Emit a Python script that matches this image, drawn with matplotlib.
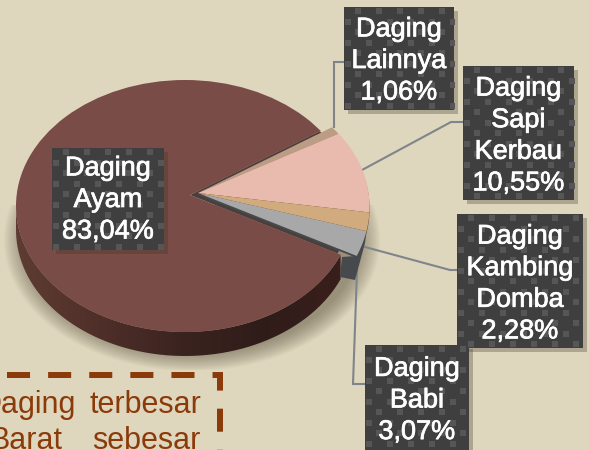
import numpy as np
import matplotlib
matplotlib.use("Agg")
import matplotlib.pyplot as plt
import matplotlib.patheffects as pe
from matplotlib.colors import LinearSegmentedColormap
from matplotlib.patches import Ellipse, PathPatch, Polygon, Rectangle
from matplotlib.path import Path

plt.rcParams["font.family"] = ["Liberation Sans", "DejaVu Sans"]
plt.rcParams["lines.scale_dashes"] = False

# data
labels = ["Daging Lainnya", "Daging Sapi Kerbau", "Daging Kambing Domba", "Daging Babi", "Daging Ayam"]
box_text = ["Daging\nLainnya\n1,06%", "Daging\nSapi\nKerbau\n10,55%",
            "Daging\nKambing\nDomba\n2,28%", "Daging\nBabi\n3,07%", "Daging\nAyam\n83,04%"]
values = [1.06, 10.55, 2.28, 3.07, 83.04]
note_lines = [("Daging", "terbesar"), ("Barat", "sebesar")]

BG = "#dfd6be"
SLICE_COLORS = ["#bb9d85", "#e9baae", "#d1aa7d", "#a8a8a8", "#7a4c47"]
SIDE_COLORS = ["#8d7460", "#5a3a30", "#5f4630", "#474a4c"]
BOXES = [(344, 7, 454, 110), (463, 66, 574, 200), (457, 214, 583, 348),
         (365, 345, 469, 450), (52, 148, 164, 250)]
TEXT_DY = [2.5, 3, 3, 3, 1]
LEADERS = [[(334, 127), (334, 62), (344, 62)],
           [(362, 170), (451, 122), (463, 122)],
           [(365, 247), (450, 270), (457, 270)],
           [(357, 270), (353, 384), (365, 384)]]

CX, CY = 198, 193       # apex of the small slices
MX, MY, MA, MB = 185, 206, 169, 126   # ellipse of the main slice
AX, AY = 190, 195       # apex of the main slice
SQUASH = 0.75
START = 33.2
DEPTH = 24


def rad_at(t):
    # the small slices bulge toward the lower right
    return 170.6 - 0.32 * t


def sector(a0, a1, dy=0, scale=1.0, apex=(CX, CY)):
    deg = np.linspace(a0, a1, 60)
    t = np.radians(deg)
    r = rad_at(deg) * scale
    xs = apex[0] + r * np.cos(t)
    ys = apex[1] + dy - SQUASH * r * np.sin(t)
    return np.vstack([[apex[0], apex[1] + dy], np.column_stack([xs, ys])])


fig = plt.figure(figsize=(5.89, 4.5), dpi=100, facecolor=BG)
ax = fig.add_axes([0, 0, 1, 1])
ax.set_xlim(0, 589)
ax.set_ylim(450, 0)
ax.axis("off")

# soft shadow under the pie
clip_rect = Rectangle((0, 205), 589, 165, transform=ax.transData)
for k in range(14):
    e = Ellipse((192, 240), 2 * (188 - k * 1.6), 2 * (131 - k * 1.3), fc="#4a4030",
                ec="none", alpha=0.04, zorder=1)
    ax.add_patch(e)
    e.set_clip_path(clip_rect)

# leaders
for pts in LEADERS:
    p = np.array(pts)
    ax.plot(p[:, 0], p[:, 1], color="#7f858a", lw=1.5, zorder=2, solid_joinstyle="miter")

# angles of the slices, clockwise from START
spans = np.array(values) * 3.6
edges = START - np.concatenate([[0], np.cumsum(spans)])

# side wall of the main slice
phi = np.radians(np.linspace(180, 337, 200))
ex, ey = MX + MA * np.cos(phi), MY - MB * np.sin(phi)
rim_pts = np.vstack([np.column_stack([ex, ey]),
                     np.column_stack([ex[::-1], ey[::-1] + DEPTH])])
rim = PathPatch(Path(rim_pts), fc="none", ec="none", zorder=3)
ax.add_patch(rim)
rim_cmap = LinearSegmentedColormap.from_list("rim", ["#5e3c32", "#4f2f29", "#3b2420", "#2f1c19", "#3a1f1c"])
im = ax.imshow(np.linspace(0, 1, 256)[None, :], extent=(16, 345, 370, 190), cmap=rim_cmap,
               aspect="auto", zorder=3)
im.set_clip_path(rim)
ax.set_xlim(0, 589)
ax.set_ylim(450, 0)

# dark wall along the cut of the main slice, runs on under the small slices
ax.add_patch(Polygon(sector(edges[0], edges[0] - 1.8, scale=0.97, apex=(AX, AY)), fc="#552f2b", ec="none", zorder=4))
ax.add_patch(Polygon(sector(edges[0], edges[4], scale=0.93, apex=(AX, AY)), fc="#4a3f3d", ec="none", zorder=4))
wedge_clip = Polygon(sector(edges[4], edges[5], scale=1.6, apex=(AX, AY)), transform=ax.transData)
main = Ellipse((MX, MY), 2 * MA, 2 * MB, fc=SLICE_COLORS[4], ec="none", zorder=4)
ax.add_patch(main)
main.set_clip_path(wedge_clip)

# dark side of the grey slice
deg = np.linspace(edges[3], edges[4], 20)
gx = CX + rad_at(deg) * np.cos(np.radians(deg))
gy = CY - SQUASH * rad_at(deg) * np.sin(np.radians(deg))
ax.add_patch(Polygon(np.vstack([np.column_stack([gx, gy]),
                                [[342, 257], [340, 277], [355, 280], [365, 243]]]),
                     fc="#474a4c", ec="none", zorder=5))

for i in range(4):
    ax.add_patch(Polygon(sector(edges[i], edges[i + 1], dy=2), fc=SIDE_COLORS[i],
                         ec="none", zorder=6 + i))
    ax.add_patch(Polygon(sector(edges[i], edges[i + 1]), fc=SLICE_COLORS[i],
                         ec="none", zorder=6 + i))

# label boxes
for (x0, y0, x1, y1), txt, dy in zip(BOXES, box_text, TEXT_DY):
    ax.add_patch(Rectangle((x0 + 4, y0 + 4), x1 - x0, y1 - y0, fc="#3a3528", alpha=0.3, ec="none", zorder=11))
    box = Rectangle((x0, y0), x1 - x0, y1 - y0, fc="#3f3f3f", ec="none", zorder=12)
    ax.add_patch(box)
    dots_x, dots_y = [], []
    for r, yy in enumerate(np.arange(y0 + 4, y1, 10.5)):
        for xx in np.arange(x0 + (4 if r % 2 else 14), x1, 21):
            dots_x.append(xx)
            dots_y.append(yy)
    sc = ax.scatter(dots_x, dots_y, s=13, marker="s", c="#565656", linewidths=0, zorder=13)
    sc.set_clip_path(box)
    ax.text((x0 + x1) / 2, (y0 + y1) / 2 + dy, txt, color="white", fontsize=19.5, ha="center",
            va="center", linespacing=1.28, zorder=14,
            path_effects=[pe.withStroke(linewidth=0.5, foreground="white")])

# dashed note box, runs off the canvas
ax.plot([7, 220, 220], [375, 375, 452], color="#8b3a0a", lw=4.3, ls=(0, (16.6, 13)),
        dash_capstyle="butt", dash_joinstyle="miter", zorder=15)
for (w1, w2), base in zip(note_lines, [413, 449]):
    xr1 = 76 if w1 == "Daging" else 63
    ax.text(xr1, base, w1, color="#8b3a0a", fontsize=22, ha="right", va="baseline", zorder=15)
    ax.text(201, base, w2, color="#8b3a0a", fontsize=22, ha="right", va="baseline", zorder=15)

fig.savefig("out.png", dpi=100, facecolor=BG)
